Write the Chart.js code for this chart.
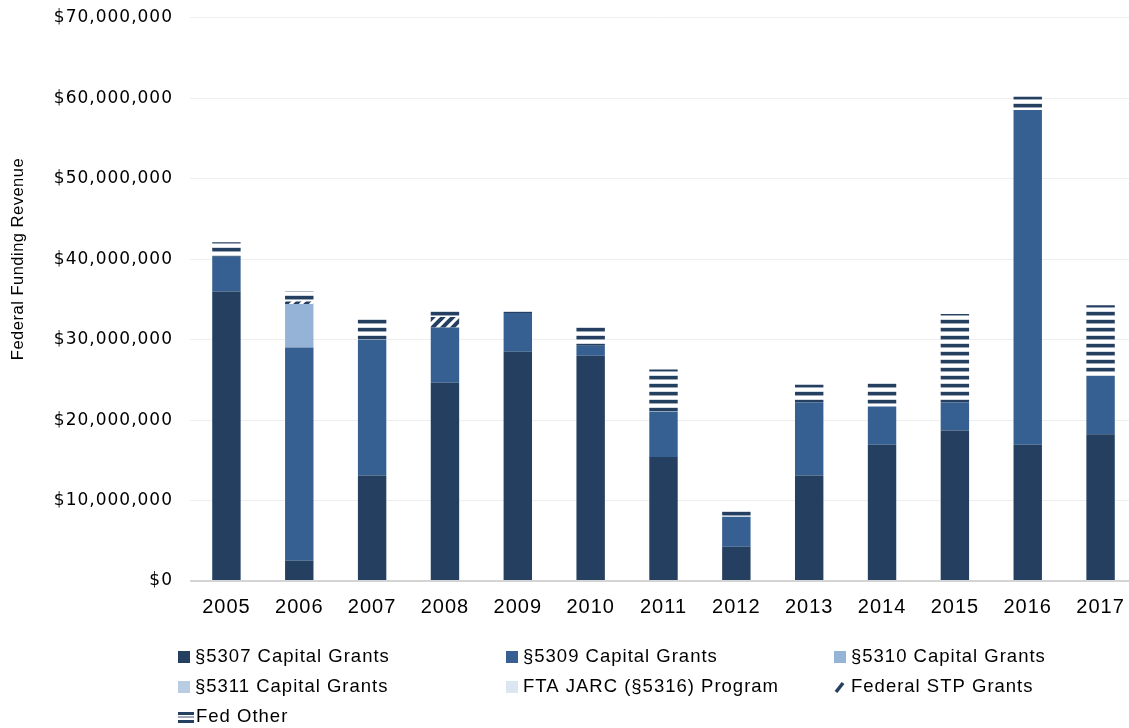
<!DOCTYPE html>
<html>
<head>
<meta charset="utf-8">
<script src="https://cdn.jsdelivr.net/npm/chart.js@4/dist/chart.umd.min.js"></script>
<style>
  html, body { margin: 0; padding: 0; background: #fff; overflow: hidden; }
  #chart { display: block; }
</style>
</head>
<body>
<canvas id="chart" width="1137" height="728"></canvas>
<script>
// years on the x axis
const years = ['2005', '2006', '2007', '2008', '2009', '2010', '2011', '2012', '2013', '2014', '2015', '2016', '2017'];

// funding by source, in dollars
const cap5307  = [36000000, 2530000, 13100000, 24650000, 28500000, 28000000, 15400000, 4270000, 13100000, 16950000, 18700000, 16950000, 18240000];
const cap5309  = [4300000, 26500000, 16900000, 6850000, 4800000, 1250000, 5650000, 3730000, 9100000, 4750000, 3500000, 41600000, 7250000];
const cap5310  = [0, 5400000, 0, 0, 0, 0, 0, 0, 0, 0, 0, 0, 0];
const cap5311  = [0, 0, 0, 0, 0, 0, 0, 0, 0, 0, 0, 0, 0];
const jarc5316 = [0, 0, 0, 0, 0, 0, 0, 0, 0, 0, 0, 0, 0];
const stpGrants = [0, 300000, 0, 1300000, 0, 0, 0, 0, 0, 0, 0, 0, 0];
const fedOther = [1800000, 1300000, 2800000, 1000000, 400000, 2550000, 5250000, 700000, 2200000, 3000000, 11000000, 1650000, 8800000];

const yTicksMax = 70000000;
const yTickStep = 10000000;

const DARK = '#243F60';

// horizontal stripes for "Fed Other"
function makeHStripes() {
    const c = document.createElement('canvas');
    c.width = 8; c.height = 8;
    const g = c.getContext('2d');
    g.fillStyle = '#ffffff';
    g.fillRect(0, 0, 8, 8);
    g.fillStyle = DARK;
    g.fillRect(0, 0, 8, 3);
    g.fillStyle = '#9aa8ba';
    g.fillRect(0, 3, 8, 1);
    g.fillStyle = '#d5dbe3';
    g.fillRect(0, 7, 8, 1);
    return g.createPattern(c, 'repeat');
}

// diagonal hatch for "Federal STP Grants"
function makeDiagonal() {
    const c = document.createElement('canvas');
    c.width = 10; c.height = 10;
    const g = c.getContext('2d');
    g.fillStyle = '#ffffff';
    g.fillRect(0, 0, 10, 10);
    g.strokeStyle = DARK;
    g.lineWidth = 4;
    g.beginPath();
    g.moveTo(-5, 5); g.lineTo(5, -5);
    g.moveTo(0, 10); g.lineTo(10, 0);
    g.moveTo(5, 15); g.lineTo(15, 5);
    g.stroke();
    return g.createPattern(c, 'repeat');
}

const series = [
    { label: '§5307 Capital Grants', data: cap5307, color: '#243F60', marker: 'box' },
    { label: '§5309 Capital Grants', data: cap5309, color: '#366092', marker: 'box' },
    { label: '§5310 Capital Grants', data: cap5310, color: '#95B3D7', marker: 'box' },
    { label: '§5311 Capital Grants', data: cap5311, color: '#B8CCE4', marker: 'box' },
    { label: 'FTA JARC (§5316) Program', data: jarc5316, color: '#DCE6F1', marker: 'box' },
    { label: 'Federal STP Grants', data: stpGrants, color: makeDiagonal(), marker: 'slash' },
    { label: 'Fed Other', data: fedOther, color: makeHStripes(), marker: 'stripes' }
];

// custom legend + rotated axis title, drawn the way the original lays them out
const extrasPlugin = {
    id: 'extras',
    beforeDraw: function(chart) {
        chart.ctx.letterSpacing = '1px';
    },
    afterDraw: function(chart) {
        const ctx = chart.ctx;
        ctx.save();
        ctx.letterSpacing = '0.5px';
        ctx.fillStyle = '#000';
        ctx.font = '16.5px "Liberation Sans", Arial, sans-serif';
        ctx.translate(18, 259);
        ctx.rotate(-Math.PI / 2);
        ctx.textAlign = 'center';
        ctx.textBaseline = 'middle';
        ctx.fillText('Federal Funding Revenue', 0, 0);
        ctx.restore();

        const colX = [178, 506, 834];
        const rowY = [657, 687, 717];
        ctx.save();
        ctx.letterSpacing = '1px';
        ctx.font = '18.5px "Liberation Sans", Arial, sans-serif';
        ctx.textBaseline = 'middle';
        series.forEach((s, i) => {
            const x = colX[i % 3];
            const y = rowY[Math.floor(i / 3)];
            if (s.marker === 'box') {
                ctx.fillStyle = s.color;
                ctx.fillRect(x, y - 6, 12, 12);
            } else if (s.marker === 'slash') {
                ctx.strokeStyle = DARK;
                ctx.lineWidth = 3.5;
                ctx.beginPath();
                ctx.moveTo(x + 2, y + 5);
                ctx.lineTo(x + 9, y - 4);
                ctx.stroke();
            } else {
                ctx.fillStyle = DARK;
                ctx.fillRect(x, y - 5, 16, 3);
                ctx.fillStyle = '#9aa8ba';
                ctx.fillRect(x, y - 1, 16, 2);
                ctx.fillStyle = DARK;
                ctx.fillRect(x, y + 3, 16, 3);
            }
            ctx.fillStyle = '#000';
            ctx.fillText(s.label, x + (s.marker === 'stripes' ? 18 : 17), y);
        });
        ctx.restore();
    }
};

const ctx = document.getElementById('chart').getContext('2d');
const chart = new Chart(ctx, {
    type: 'bar',
    data: {
        labels: years,
        datasets: series.map(s => ({
            label: s.label,
            data: s.data,
            backgroundColor: s.color,
            borderWidth: 0,
            barPercentage: 0.39,
            categoryPercentage: 1.0
        }))
    },
    options: {
        responsive: false,
        animation: false,
        devicePixelRatio: 1,
        layout: { padding: { top: 0, right: 0, bottom: 0, left: 0 } },
        plugins: {
            legend: { display: false },
            tooltip: { enabled: false }
        },
        scales: {
            x: {
                stacked: true,
                grid: { display: false, drawTicks: false },
                border: { display: false },
                ticks: {
                    color: '#000',
                    padding: 14,
                    maxRotation: 0,
                    font: { family: '"Liberation Sans", Arial, sans-serif', size: 20 }
                },
                afterFit: function(scale) { scale.height = 147; }
            },
            y: {
                stacked: true,
                min: 0,
                max: yTicksMax,
                grid: {
                    drawTicks: false,
                    color: c => (c.tick && c.tick.value === 0) ? '#d4d4d4' : '#eeeeee',
                    lineWidth: c => (c.tick && c.tick.value === 0) ? 2 : 1
                },
                border: { display: false },
                ticks: {
                    stepSize: yTickStep,
                    color: '#000',
                    padding: 17,
                    font: { family: '"DejaVu Sans", sans-serif', size: 17, lineHeight: 0.1 },
                    callback: v => '$' + v.toLocaleString('en-US')
                },
                afterFit: function(scale) { scale.width = 190; }
            }
        }
    },
    plugins: [extrasPlugin]
});
</script>
</body>
</html>
